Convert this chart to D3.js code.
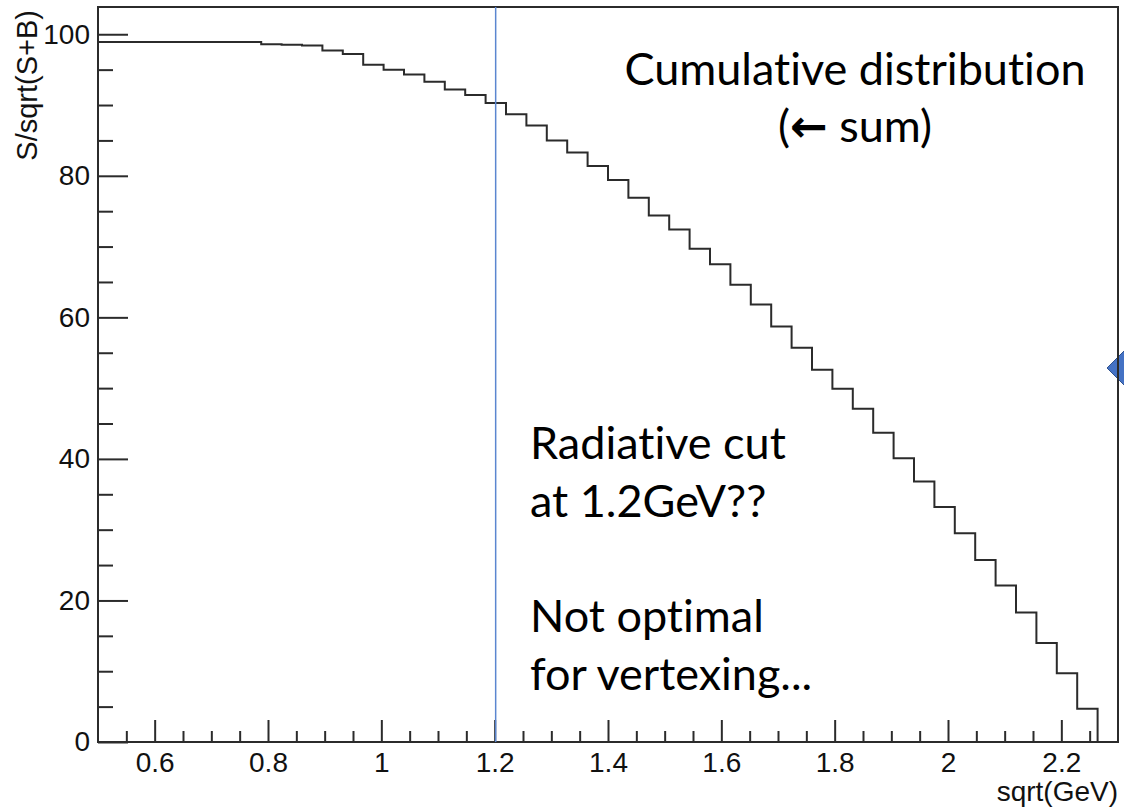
<!DOCTYPE html>
<html>
<head>
<meta charset="utf-8">
<script src="https://cdn.jsdelivr.net/npm/d3@7"></script>
<style>
  body { margin: 0; background: #fff; }
  .axis text { font-family: "Liberation Sans", Arial, sans-serif; fill: #111; }
  .axis line { stroke: #2b2b2b; stroke-width: 2; }
  .note { font-family: Lato, "Open Sans", sans-serif; fill: #000; font-variant-ligatures: none; }
</style>
</head>
<body>
<svg id="chart" width="1124" height="810"></svg>
<script>

// histogram binning (ROOT style, 50 bins from 0.5 to 2.3)
var binRange = [0.5, 2.3];
var nBins = 50;

// S/sqrt(S+B) per bin
var sigValues = [
  98.9, 98.9, 98.9, 98.9, 98.9, 98.9, 98.9, 98.9, 98.6, 98.5,
  98.4, 97.7, 97.2, 95.7, 95.0, 94.3, 93.3, 92.2, 91.4, 90.3,
  88.7, 87.1, 85.0, 83.3, 81.4, 79.4, 76.9, 74.4, 72.4, 69.7,
  67.5, 64.6, 61.8, 58.7, 55.7, 52.6, 49.9, 47.1, 43.7, 40.1,
  36.8, 33.2, 29.5, 25.7, 22.1, 18.3, 14.0, 9.7, 4.7, 0
];

var xTicks = [0.6, 0.8, 1, 1.2, 1.4, 1.6, 1.8, 2, 2.2];
var xMinorTicks = [0.55, 0.65, 0.7, 0.75, 0.85, 0.9, 0.95, 1.05, 1.1, 1.15,
  1.25, 1.3, 1.35, 1.45, 1.5, 1.55, 1.65, 1.7, 1.75, 1.85, 1.9, 1.95,
  2.05, 2.1, 2.15, 2.25];
var yTicks = [0, 20, 40, 60, 80, 100];
var yMinorTicks = [5, 10, 15, 25, 30, 35, 45, 50, 55, 65, 70, 75, 85, 90, 95];
var yMax = 103.85;

var xTitle = "sqrt(GeV)";
var yTitle = "S/sqrt(S+B)";
var cutValue = 1.2;

var topNote = ["Cumulative distribution", "sum)"];
var cutNote = ["Radiative cut", "at 1.2GeV??", "", "Not optimal", "for vertexing..."];


var svg = d3.select("#chart");
var padL = 98, padR = 1118, padT = 7, padB = 742;

var x = d3.scaleLinear().domain(binRange).range([padL, padR]);
var y = d3.scaleLinear().domain([0, yMax]).range([padB, padT]);

// slide decoration: blue arrow tip cut by the right edge
svg.append("path")
    .attr("d", "M1107,368 L1140,335 L1173,368 L1140,401 Z")
    .attr("fill", "#4472c4")
    .attr("stroke", "#2f528f")
    .attr("stroke-width", 1);

// x axis, major + minor
var xAxis = svg.append("g").attr("class", "axis")
    .attr("transform", "translate(0," + padB + ")")
    .call(d3.axisBottom(x).tickValues(xTicks).tickSize(-22).tickPadding(10)
      .tickFormat(d3.format("~g")));
xAxis.selectAll("text").style("font-size", "28px");
svg.append("g").attr("class", "axis")
    .attr("transform", "translate(0," + padB + ")")
    .call(d3.axisBottom(x).tickValues(xMinorTicks).tickSize(-11).tickFormat(""));

// y axis
var yAxis = svg.append("g").attr("class", "axis")
    .attr("transform", "translate(" + padL + ",0)")
    .call(d3.axisLeft(y).tickValues(yTicks).tickSize(-30).tickPadding(8));
yAxis.selectAll("text").style("font-size", "28px");
svg.append("g").attr("class", "axis")
    .attr("transform", "translate(" + padL + ",0)")
    .call(d3.axisLeft(y).tickValues(yMinorTicks).tickSize(-15).tickFormat(""));

svg.selectAll(".axis .domain").remove();

// histogram outline
var binWidth = (binRange[1] - binRange[0]) / nBins;
var pts = sigValues.map(function(v, i) { return [binRange[0] + i * binWidth, v]; });
pts.push([binRange[0] + nBins * binWidth, sigValues[nBins - 1]]);

var line = d3.line()
    .x(function(d) { return x(d[0]); })
    .y(function(d) { return y(d[1]); })
    .curve(d3.curveStepAfter);

svg.append("path")
    .datum(pts)
    .attr("d", line)
    .attr("fill", "none")
    .attr("stroke", "#2b2b2b")
    .attr("stroke-width", 2);

// frame
svg.append("rect")
    .attr("x", padL).attr("y", padT)
    .attr("width", padR - padL).attr("height", padB - padT)
    .attr("fill", "none")
    .attr("stroke", "#2b2b2b")
    .attr("stroke-width", 2);

// cut line
svg.append("line")
    .attr("x1", x(cutValue) + 1).attr("x2", x(cutValue) + 1)
    .attr("y1", padT).attr("y2", padB)
    .attr("stroke", "#5b86d0")
    .attr("stroke-width", 1.5);

// axis titles
svg.append("text")
    .attr("x", padR).attr("y", 801)
    .attr("text-anchor", "end")
    .style("font-family", "'Liberation Sans', Arial, sans-serif")
    .style("font-size", "28px")
    .attr("fill", "#111")
    .text(xTitle);

svg.append("text")
    .attr("transform", "translate(37,10) rotate(-90)")
    .attr("text-anchor", "end")
    .style("font-family", "'Liberation Sans', Arial, sans-serif")
    .style("font-size", "29px")
    .attr("fill", "#111")
    .text(yTitle);

// annotations
svg.append("text").attr("class", "note")
    .attr("x", 855).attr("y", 85)
    .attr("text-anchor", "middle")
    .style("font-size", "45px")
    .text(topNote[0]);

var t2 = svg.append("text").attr("class", "note")
    .attr("x", 855).attr("y", 142)
    .attr("text-anchor", "middle")
    .style("font-size", "45px");
t2.append("tspan").text("(");
t2.append("tspan").style("font-family", "'DejaVu Sans'").style("font-weight", "bold").text("\u2190");
t2.append("tspan").text(" " + topNote[1]);

svg.append("g").selectAll("text")
    .data(cutNote)
    .enter().append("text")
    .attr("class", "note")
    .attr("x", 530)
    .attr("y", function(d, i) { return 459 + i * 57.7; })
    .style("font-size", "45px")
    .text(function(d) { return d; });

</script>
</body>
</html>
